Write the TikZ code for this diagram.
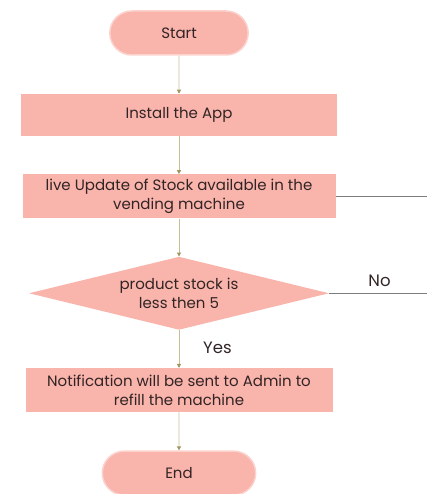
\documentclass[tikz,border=0pt]{standalone}
\usepackage{fontspec}
\setmainfont{Poppins}
\usepackage{tikz}
\usetikzlibrary{shapes.geometric, shapes.misc, arrows.meta, positioning}

\definecolor{boxpink}{RGB}{249,180,172}
\definecolor{pillrim}{RGB}{252,210,205}
\definecolor{flowline}{RGB}{200,190,150}
\definecolor{flowtip}{RGB}{160,150,100}
\definecolor{sideline}{RGB}{125,125,125}
\definecolor{txt}{RGB}{50,36,36}

\begin{document}
\begin{tikzpicture}[x=1pt, y=1pt, node distance=38pt,
    every node/.style={text=txt, font=\fontsize{15}{18.5}\selectfont, align=center},
    term/.style={rounded rectangle, fill=boxpink, draw=pillrim, line width=1.5pt, minimum height=44pt},
    procbox/.style={rectangle, fill=boxpink, minimum height=44pt},
    decision/.style={diamond, fill=boxpink, inner sep=0pt, aspect=4, minimum width=300pt, minimum height=73pt},
    lbl/.style={inner sep=0pt, font=\fontsize{16.5}{18}\selectfont},
    flow/.style={draw=flowline, line width=0.9pt, -{Triangle[length=4pt, width=4pt, color=flowtip]}}]
    \useasboundingbox (0,0) rectangle (427,-494);

    % Main column
    \node (start) [term, minimum width=145pt] at (179,-33) {Start};
    \node (install) [procbox, below=of start, minimum width=316pt, minimum height=42pt] {Install the App};
    \node (update) [procbox, below=of install, minimum width=313pt] {live Update of Stock available in the\\vending machine};
    \node (dec) [decision, below=of update] {product stock is\\less then 5};
    \node (notify) [procbox, below=of dec, minimum width=307pt] {Notification will be sent to Admin to\\refill the machine};
    \node (end) [term, below=of notify, minimum width=160pt] {End};

    % Flow arrows
    \draw[flow] (start) -- (install);
    \draw[flow] (install) -- (update);
    \draw[flow] (update) -- (dec);
    \draw[flow] (dec) -- (notify);
    \draw[flow] (notify) -- (end);

    % Side lines to the right edge
    \coordinate (edge) at (427,0);
    \draw[sideline, line width=0.6pt] (update.east) -- (update.east -| edge);
    \draw[sideline, line width=0.6pt] (dec.east) -- (dec.east -| edge);

    % Branch labels
    \node (no) [lbl, above right=6pt and 39pt of dec.east] {No};
    \node (yes) [lbl, below right=12pt and 24pt of dec.south] {Yes};
\end{tikzpicture}
\end{document}
